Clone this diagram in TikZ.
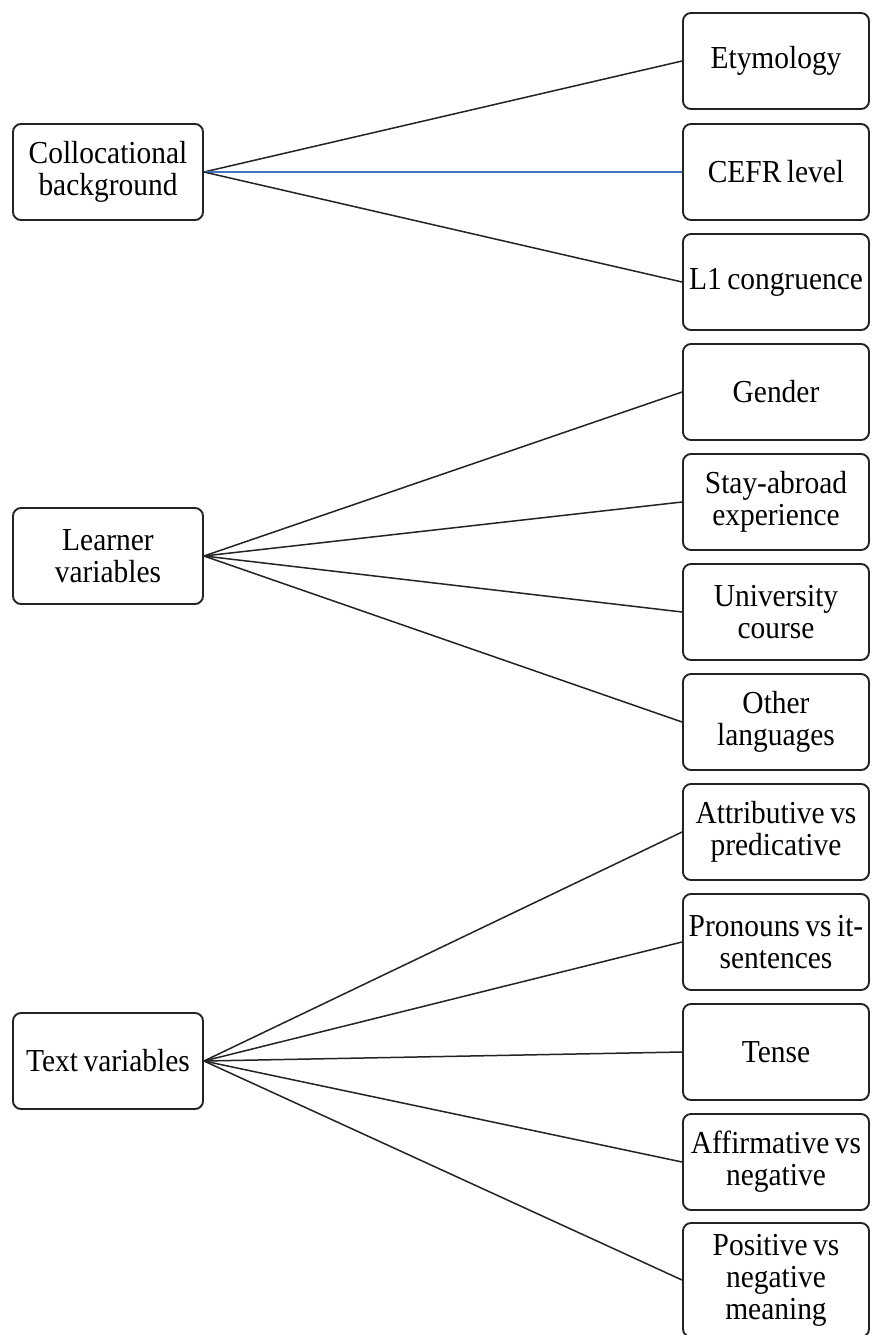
\documentclass[tikz,border=0pt]{standalone}
\usepackage{fontspec}
\setmainfont[FakeStretch=0.92]{Liberation Serif}
\definecolor{edge}{RGB}{35,35,35}
\definecolor{blueedge}{RGB}{68,114,196}
\newcommand{\boxfont}{\fontsize{32}{32}\selectfont\spaceskip=5.5pt plus 1pt minus 1pt\relax}
\begin{document}
\begin{tikzpicture}[x=1pt,y=-1pt,
  box/.style={draw=edge, line width=1.9pt, rounded corners=8pt, align=center,
    inner sep=2pt, font=\boxfont},
  rbox/.style={box, minimum width=186pt, minimum height=96pt},
  lbox/.style={box, minimum width=190pt, minimum height=96pt},
  link/.style={draw=edge, line width=1.5pt},
  bluelink/.style={draw=blueedge, line width=1.2pt}]
\useasboundingbox (0,0) rectangle (871,1335);
\begin{scope}
\clip (0,0) rectangle (871,1335);
% left boxes
\node[lbox] (coll) at (108,172) {Collocational\\background};
\node[lbox] (learn) at (108,556) {Learner\\variables};
\node[lbox] (text) at (108,1061) {Text variables};
% right boxes
\node[rbox] (ety) at (776,61) {Etymology};
\node[rbox] (cefr) at (776,172) {CEFR level};
\node[rbox] (l1) at (776,282) {L1 congruence};
\node[rbox] (gen) at (776,392) {Gender};
\node[rbox] (stay) at (776,502) {Stay-abroad\\experience};
\node[rbox] (univ) at (776,612) {University\\course};
\node[rbox] (other) at (776,722) {Other\\languages};
\node[rbox] (attr) at (776,832) {Attributive vs\\predicative};
\node[rbox] (pron) at (776,942) {Pronouns vs it-\\sentences};
\node[rbox] (tense) at (776,1052) {Tense};
\node[rbox] (aff) at (776,1162) {Affirmative vs\\negative};
\node[rbox, minimum height=114pt] (pos) at (776,1280) {Positive vs\\negative\\meaning};
% connectors
\draw[link] (coll.east) -- (ety.west);
\draw[bluelink] (coll.east) -- (cefr.west);
\draw[link] (coll.east) -- (l1.west);
\draw[link] (learn.east) -- (gen.west);
\draw[link] (learn.east) -- (stay.west);
\draw[link] (learn.east) -- (univ.west);
\draw[link] (learn.east) -- (other.west);
\draw[link] (text.east) -- (attr.west);
\draw[link] (text.east) -- (pron.west);
\draw[link] (text.east) -- (tense.west);
\draw[link] (text.east) -- (aff.west);
\draw[link] (text.east) -- (pos.west);
\end{scope}
\end{tikzpicture}
\end{document}
